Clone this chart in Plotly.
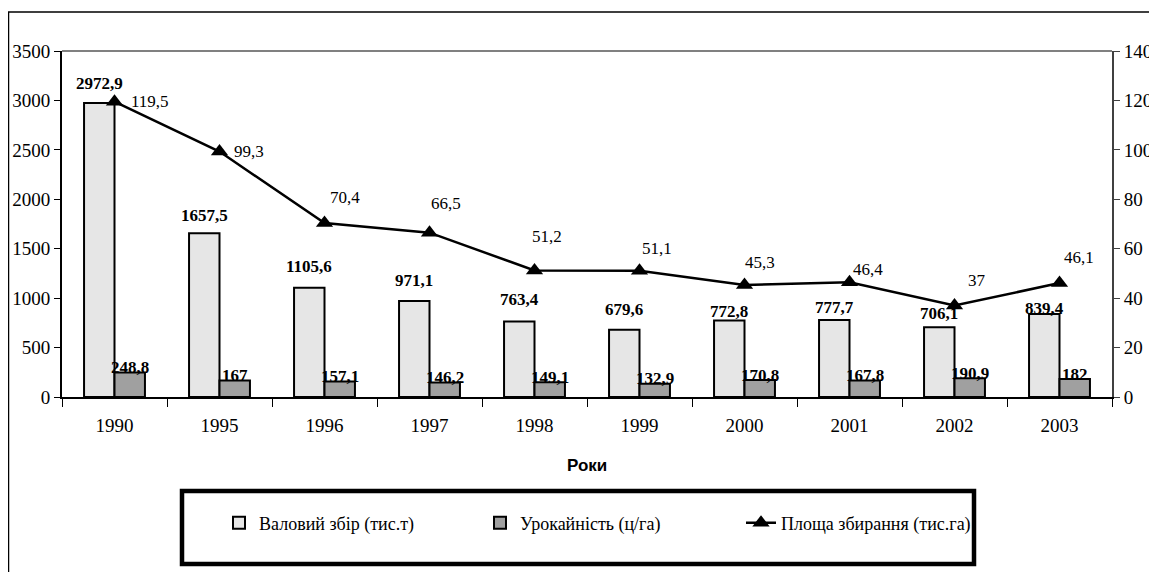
import plotly.graph_objects as go

# ---- data ----
years = ["1990", "1995", "1996", "1997", "1998", "1999", "2000", "2001", "2002", "2003"]
gross = [2972.9, 1657.5, 1105.6, 971.1, 763.4, 679.6, 772.8, 777.7, 706.1, 839.4]   # тис.т
yield_ = [248.8, 167, 157.1, 146.2, 149.1, 132.9, 170.8, 167.8, 190.9, 182]         # ц/га
area = [119.5, 99.3, 70.4, 66.5, 51.2, 51.1, 45.3, 46.4, 37, 46.1]                  # тис.га

left_ticks = [0, 500, 1000, 1500, 2000, 2500, 3000, 3500]
right_ticks = [0, 20, 40, 60, 80, 100, 120, 140]

name_gross = "Валовий збір (тис.т)"
name_yield = "Урокайність (ц/га)"
name_area = "Площа збирання (тис.га)"

# ---- label offsets (px), styling only ----
gross_lab_dy = [20, 18, 21, 21, 22, 20, 9, 13, 14, 6]
area_lab_dx = [35, 29, 20, 16, 12, 17, 15, 18, 22, 19]
area_lab_dy = [0, 0, 26, 29, 34, 22, 23, 13, 25, 26]

# page body has an 8px default margin: the figure starts at (8, 8) in the window
OFF = 8
W, H = 1157 - OFF, 572 - OFF
ML, MR, MT, MB = 62 - OFF, 45, 51 - OFF, 175
PW, PH = W - ML - MR, H - MT - MB


def px(X):
    """window pixel x -> paper x"""
    return (X - OFF - ML) / PW


def py(Y):
    """window pixel y -> paper y"""
    return (H - MB - (Y - OFF)) / PH


def fmt(v):
    return ("%g" % v).replace(".", ",")


SERIF = "Liberation Serif"

fig = go.Figure()
fig.add_trace(go.Bar(
    x=years, y=gross, name=name_gross,
    marker=dict(color="#e6e6e6", line=dict(color="black", width=2)),
))
fig.add_trace(go.Bar(
    x=years, y=yield_, name=name_yield,
    marker=dict(color="#a0a0a0", line=dict(color="black", width=2)),
))
fig.add_trace(go.Scatter(
    x=years, y=area, name=name_area, yaxis="y2",
    mode="lines+markers",
    line=dict(color="black", width=2.5),
    marker=dict(symbol="triangle-up", size=15, color="black"),
))

ann = []
for i, yr in enumerate(years):
    ann.append(dict(x=i, y=gross[i], xref="x", yref="y", text=fmt(gross[i]),
                    showarrow=False, xshift=-15.5, yshift=gross_lab_dy[i],
                    yanchor="middle",
                    font=dict(family=SERIF, size=17, color="black", weight="bold")))
    ann.append(dict(x=i, y=yield_[i], xref="x", yref="y", text=fmt(yield_[i]),
                    showarrow=False, xshift=15.5, yshift=5, yanchor="middle",
                    font=dict(family=SERIF, size=17, color="black", weight="bold")))
    ann.append(dict(x=i, y=area[i], xref="x", yref="y2", text=fmt(area[i]),
                    showarrow=False, xshift=area_lab_dx[i], yshift=area_lab_dy[i],
                    yanchor="middle",
                    font=dict(family=SERIF, size=17, color="black")))

ann.append(dict(x=0.5, y=py(465), xref="paper", yref="paper", text="<b>Роки</b>",
                showarrow=False, yanchor="middle",
                font=dict(family="Liberation Sans", size=17, color="black")))

shapes = [
    # outer chart frame
    dict(type="rect", xref="paper", yref="paper",
         x0=px(8.5), x1=px(1156), y0=py(590), y1=py(12),
         line=dict(color="black", width=1.5), layer="below"),
    # top border of the plot area
    dict(type="line", xref="paper", yref="paper", x0=0, x1=1, y0=1, y1=1,
         line=dict(color="#808080", width=2)),
    # legend frame
    dict(type="rect", xref="paper", yref="paper",
         x0=px(182), x1=px(974), y0=py(564), y1=py(491),
         line=dict(color="black", width=4.5)),
]

fig.update_layout(
    width=W, height=H,
    margin=dict(l=ML, r=MR, t=MT, b=MB, autoexpand=False),
    paper_bgcolor="white", plot_bgcolor="white",
    barmode="group", bargap=0.42, bargroupgap=0,
    font=dict(family=SERIF, color="black", size=18),
    showlegend=True,
    legend=dict(orientation="h", x=px(219), y=py(523), xanchor="left", yanchor="middle",
                font=dict(family=SERIF, size=18, color="black"),
                entrywidth=216, entrywidthmode="pixels",
                bgcolor="rgba(0,0,0,0)", borderwidth=0),
    xaxis=dict(type="category", range=[-0.5, len(years) - 0.5], automargin=False,
               showline=True, linecolor="black", linewidth=2,
               ticks="outside", ticklen=8, tickwidth=1, tickcolor="black",
               tickson="boundaries", ticklabelstandoff=10,
               tickfont=dict(family=SERIF, size=19, color="black"),
               showgrid=False, zeroline=False, fixedrange=True),
    yaxis=dict(range=[0, 3500], tickvals=left_ticks, automargin=False,
               showline=True, linecolor="black",
               linewidth=2, ticks="outside", ticklen=6, tickcolor="black",
               tickfont=dict(family=SERIF, size=19, color="black"),
               showgrid=False, zeroline=False),
    yaxis2=dict(range=[0, 140], tickvals=right_ticks, overlaying="y", side="right",
                automargin=False,
                showline=True, linecolor="#404040", linewidth=2, ticks="outside",
                ticklen=6, tickcolor="#404040",
                tickfont=dict(family=SERIF, size=19, color="black"),
                showgrid=False, zeroline=False),
    annotations=ann,
    shapes=shapes,
)

fig.write_html("out.html")
